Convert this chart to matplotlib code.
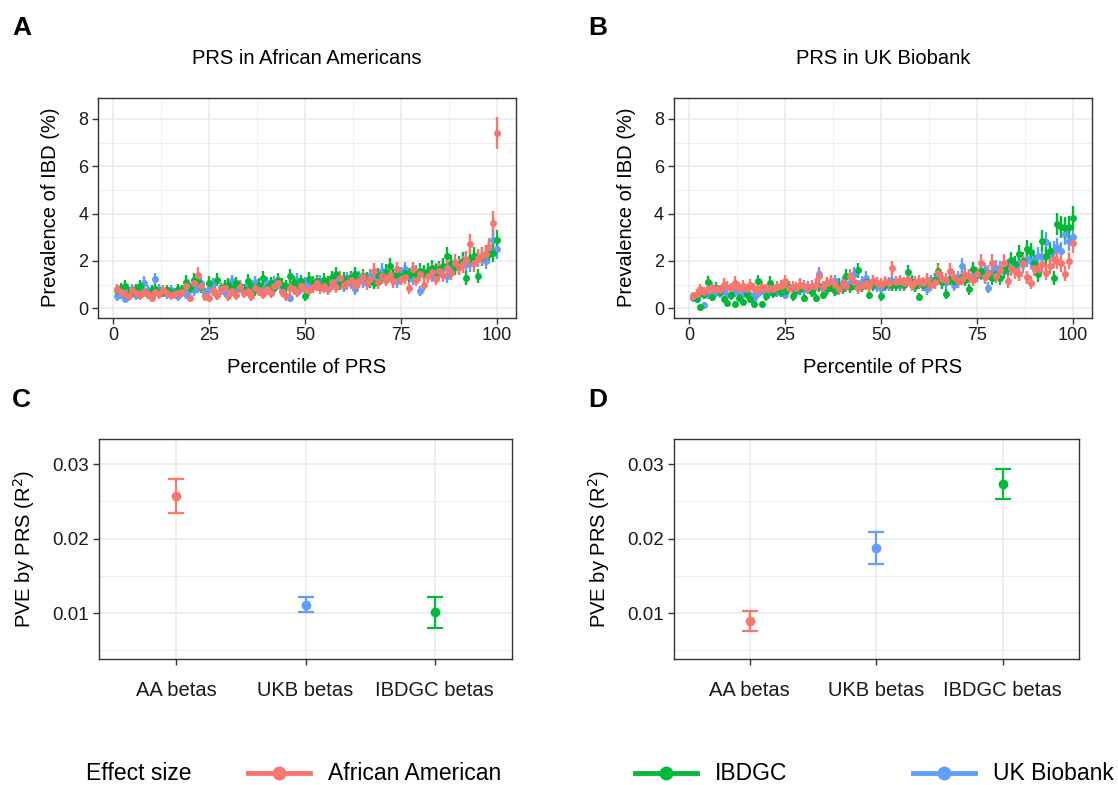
import numpy as np
import matplotlib.pyplot as plt
from matplotlib.lines import Line2D
from matplotlib.ticker import MultipleLocator

plt.rcParams['font.family'] = ['Liberation Sans', 'DejaVu Sans']

# ---- data ----
percentile = np.arange(1, 101)
n_per_bin = 1500  # people per percentile bin, used for the binomial SE

# prevalence of IBD (%) by PRS percentile, African American cohort
aa_cohort_aa = [0.80, 0.70, 0.60, 0.50, 0.75, 0.65, 0.55, 0.70, 0.60, 0.45,
                0.70, 0.60, 0.75, 0.65, 0.55, 0.60, 0.65, 0.70, 0.95, 0.45,
                1.05, 1.42, 0.95, 0.50, 0.45, 0.75, 0.55, 0.80, 0.85, 0.50,
                0.72, 0.55, 0.90, 0.65, 0.72, 0.50, 0.85, 0.75, 0.60, 0.80,
                0.65, 0.95, 1.08, 0.70, 0.51, 0.85, 0.80, 0.70, 0.95, 0.80,
                0.75, 0.90, 1.05, 0.86, 0.95, 0.80, 1.10, 0.90, 1.29, 1.00,
                1.05, 1.20, 0.95, 1.15, 1.30, 1.05, 1.25, 1.57, 1.10, 1.35,
                1.20, 1.40, 1.15, 1.64, 1.25, 1.30, 0.86, 1.64, 1.20, 1.45,
                1.00, 1.35, 1.55, 1.25, 1.57, 1.40, 1.70, 1.50, 1.93, 1.75,
                1.85, 2.05, 2.71, 1.90, 2.14, 2.20, 2.30, 2.57, 3.61, 7.40]
aa_cohort_ibdgc = [0.75, 0.85, 0.94, 0.70, 0.65, 0.80, 0.94, 0.70, 0.60, 0.75,
                   0.80, 0.65, 0.70, 0.75, 0.70, 0.60, 0.80, 0.75, 1.12, 0.85,
                   1.20, 1.12, 0.90, 0.51, 1.08, 0.75, 1.20, 0.85, 0.95, 1.00,
                   0.85, 1.05, 0.90, 0.80, 1.17, 0.95, 0.75, 1.00, 1.28, 0.90,
                   1.05, 0.85, 1.20, 1.00, 0.95, 1.35, 1.10, 0.90, 1.15, 0.51,
                   1.24, 1.05, 1.15, 1.00, 1.20, 1.10, 1.30, 1.43, 1.05, 1.25,
                   1.15, 1.30, 1.43, 1.20, 1.35, 1.25, 1.15, 1.08, 1.40, 1.30,
                   1.55, 1.78, 1.35, 1.45, 1.30, 1.50, 1.40, 1.60, 1.45, 1.57,
                   1.50, 1.57, 1.70, 1.55, 1.65, 1.80, 2.21, 1.90, 1.75, 1.85,
                   2.00, 1.29, 2.10, 2.20, 1.36, 2.15, 2.30, 2.30, 2.35, 2.89]
aa_cohort_ukb = [0.51, 0.60, 0.41, 0.65, 0.80, 0.55, 0.70, 1.08, 0.75, 0.65,
                 1.22, 0.80, 0.70, 0.60, 0.75, 0.65, 0.51, 0.70, 0.60, 0.80,
                 0.75, 0.90, 1.05, 0.65, 0.80, 1.00, 0.58, 0.85, 0.70, 0.95,
                 1.15, 0.80, 0.95, 0.70, 1.00, 0.85, 1.10, 0.86, 0.75, 1.05,
                 0.90, 1.10, 1.15, 0.80, 0.95, 0.44, 1.00, 1.20, 0.85, 1.05,
                 0.95, 1.10, 1.00, 1.15, 0.90, 0.80, 1.05, 1.20, 1.10, 0.95,
                 1.25, 1.10, 0.80, 1.30, 1.15, 1.05, 1.35, 1.20, 1.10, 1.57,
                 1.25, 1.40, 1.30, 1.15, 1.45, 1.64, 1.35, 1.25, 1.50, 0.72,
                 1.45, 1.55, 1.40, 1.60, 1.50, 1.70, 1.36, 1.65, 1.80, 1.75,
                 2.00, 1.85, 1.90, 2.05, 2.10, 2.21, 2.00, 2.45, 2.89, 2.50]

# prevalence of IBD (%) by PRS percentile, UK Biobank cohort
ukb_cohort_aa = [0.51, 0.60, 0.80, 0.70, 0.80, 0.85, 0.80, 0.75, 1.00, 0.90,
                 0.85, 1.08, 0.86, 0.95, 0.80, 0.97, 0.85, 0.75, 0.90, 0.80,
                 0.85, 0.80, 0.90, 0.95, 1.15, 0.85, 0.90, 0.86, 1.00, 0.95,
                 0.85, 0.94, 1.00, 1.36, 0.90, 1.05, 1.15, 1.00, 0.80, 1.05,
                 0.95, 1.36, 1.10, 0.86, 1.00, 1.05, 0.95, 1.15, 1.05, 1.00,
                 1.10, 1.05, 1.68, 1.10, 1.15, 1.05, 1.20, 1.00, 1.10, 1.15,
                 1.05, 1.20, 1.00, 1.10, 1.50, 1.25, 1.20, 1.57, 1.30, 1.15,
                 1.25, 1.40, 1.36, 1.20, 1.45, 1.93, 1.30, 1.50, 1.93, 1.35,
                 1.60, 1.93, 1.15, 1.70, 1.57, 1.45, 1.93, 1.30, 1.08, 1.70,
                 1.64, 1.85, 1.50, 1.78, 2.07, 2.00, 1.90, 1.46, 2.00, 2.74]
ukb_cohort_ibdgc = [0.50, 0.37, 0.05, 0.60, 1.11, 0.47, 0.87, 0.70, 0.37, 0.23,
                    0.55, 0.18, 0.45, 0.27, 0.60, 0.37, 0.16, 1.15, 0.18, 0.50,
                    1.08, 0.65, 0.87, 0.70, 0.72, 0.90, 0.51, 0.75, 0.80, 0.44,
                    0.85, 0.70, 0.44, 0.95, 0.58, 0.80, 0.95, 0.72, 1.00, 0.85,
                    1.36, 0.90, 1.05, 1.60, 0.95, 1.10, 0.58, 1.00, 1.05, 0.51,
                    1.00, 1.05, 1.00, 1.00, 1.05, 1.00, 1.53, 1.10, 0.95, 0.47,
                    1.00, 1.15, 1.05, 1.20, 1.57, 1.10, 0.61, 1.25, 1.15, 1.15,
                    1.30, 1.20, 0.80, 1.64, 1.40, 1.57, 1.35, 1.50, 1.29, 1.45,
                    1.29, 1.60, 1.70, 2.03, 1.85, 2.29, 2.00, 2.50, 2.36, 1.90,
                    1.43, 2.86, 2.20, 2.40, 1.29, 3.56, 3.42, 3.40, 3.42, 3.81]
ukb_cohort_ukb = [0.45, 0.51, 0.60, 0.13, 0.58, 0.87, 0.70, 0.65, 0.80, 0.55,
                  0.58, 0.70, 0.87, 0.60, 0.75, 0.55, 0.44, 0.65, 0.80, 0.70,
                  0.75, 0.85, 0.70, 0.80, 0.58, 0.90, 0.85, 0.72, 0.95, 0.80,
                  0.90, 0.72, 1.00, 1.43, 0.85, 1.05, 0.95, 1.15, 0.90, 1.10,
                  1.00, 1.05, 1.43, 0.95, 1.10, 1.29, 1.00, 1.05, 0.95, 0.87,
                  1.05, 1.00, 1.15, 1.10, 1.00, 1.05, 1.20, 1.15, 1.05, 1.10,
                  1.00, 0.80, 1.15, 1.20, 1.29, 1.15, 1.10, 1.25, 1.00, 1.30,
                  1.78, 1.40, 1.35, 1.36, 1.45, 1.50, 1.60, 0.87, 1.55, 1.70,
                  1.65, 1.57, 1.75, 1.80, 1.70, 1.93, 1.85, 2.10, 2.00, 2.05,
                  2.20, 2.15, 2.78, 2.30, 2.45, 2.57, 2.40, 3.14, 2.85, 3.02]

# PVE (R^2) with lower / upper bounds
beta_labels = ['AA betas', 'UKB betas', 'IBDGC betas']
pve_aa = [0.0258, 0.0111, 0.0101]
pve_aa_lo = [0.0235, 0.0101, 0.0080]
pve_aa_hi = [0.0280, 0.0122, 0.0122]
pve_ukb = [0.0089, 0.0188, 0.0273]
pve_ukb_lo = [0.0076, 0.0166, 0.0253]
pve_ukb_hi = [0.0103, 0.0209, 0.0293]

col_aa = '#F8766D'
col_ibdgc = '#00BA38'
col_ukb = '#619CFF'
beta_colors = [col_aa, col_ukb, col_ibdgc]

fig = plt.figure(figsize=(11.18, 7.85), dpi=100)


def style_axes(ax):
    for s in ax.spines.values():
        s.set_color('#333333')
        s.set_linewidth(1.0)
    ax.grid(which='major', color='#EBEBEB', lw=1.2, zorder=0)
    ax.grid(which='minor', color='#EBEBEB', lw=0.6, zorder=0)
    ax.set_axisbelow(True)
    ax.tick_params(which='major', length=4, width=1, color='#333333',
                   labelsize=13, labelcolor='#1a1a1a', pad=3)
    ax.tick_params(which='minor', length=0)


def prs_panel(rect, title, series):
    ax = fig.add_axes(rect)
    style_axes(ax)
    for vals, col in series:
        p = np.array(vals) / 100
        se = np.sqrt(p * (1 - p) / n_per_bin) * 100
        ax.errorbar(percentile, vals, yerr=se, fmt='o', color=col, ms=4.0,
                    elinewidth=1.7, capsize=0, zorder=3)
    ax.set_xlim(-3.95, 104.95)
    ax.set_ylim(-0.4, 8.9)
    ax.xaxis.set_major_locator(MultipleLocator(25))
    ax.xaxis.set_minor_locator(MultipleLocator(12.5))
    ax.yaxis.set_major_locator(MultipleLocator(2))
    ax.yaxis.set_minor_locator(MultipleLocator(1))
    ax.set_xlabel('Percentile of PRS', fontsize=14.5, labelpad=10)
    ax.set_ylabel('Prevalence of IBD (%)', fontsize=14.5, labelpad=13)
    ax.set_title(title, fontsize=14.5, pad=24)
    return ax


def pve_panel(rect, vals, lo, hi):
    ax = fig.add_axes(rect)
    style_axes(ax)
    xs = np.arange(1, len(beta_labels) + 1)
    for x, v, l, h, col in zip(xs, vals, lo, hi, beta_colors):
        ax.errorbar([x], [v], yerr=[[v - l], [h - v]], fmt='o', color=col,
                    ms=6, elinewidth=1.6, capsize=6, capthick=1.6, zorder=3)
    ax.set_xlim(0.4, 3.6)
    ax.set_ylim(0.00383, 0.0334)
    ax.set_xticks(xs)
    ax.set_xticklabels(beta_labels, fontsize=14.5)
    ax.yaxis.set_major_locator(MultipleLocator(0.01))
    ax.yaxis.set_minor_locator(MultipleLocator(0.005))
    ax.tick_params(axis='y', labelsize=13.5)
    ax.yaxis.set_major_formatter(plt.FormatStrFormatter('%.2f'))
    ax.set_ylabel('PVE by PRS (R$^2$)', fontsize=14.5, labelpad=11)
    ax.tick_params(axis='x', pad=12)
    return ax


# draw order: UK Biobank first, African American on top
prs_panel([0.0877, 0.5953, 0.3739, 0.2803], 'PRS in African Americans',
          [(aa_cohort_ukb, col_ukb), (aa_cohort_ibdgc, col_ibdgc), (aa_cohort_aa, col_aa)])
prs_panel([0.6027, 0.5953, 0.3739, 0.2803], 'PRS in UK Biobank',
          [(ukb_cohort_ukb, col_ukb), (ukb_cohort_ibdgc, col_ibdgc), (ukb_cohort_aa, col_aa)])
pve_panel([0.0886, 0.1605, 0.3694, 0.2803], pve_aa, pve_aa_lo, pve_aa_hi)
pve_panel([0.6026, 0.1605, 0.3623, 0.2803], pve_ukb, pve_ukb_lo, pve_ukb_hi)

# panel letters
for lab, x, y in [('A', 12, 28), ('B', 588, 28), ('C', 12, 400), ('D', 588, 400)]:
    fig.text(x / 1118, 1 - y / 785, lab, fontsize=19, fontweight='bold',
             va='center', ha='left')

# legend at bottom
ly = 1 - 773 / 785
fig.text(86 / 1118, ly, 'Effect size', fontsize=16.5, va='center', ha='left')
for x0, x1, col, lab in [(248, 310, col_aa, 'African American'),
                         (635, 697, col_ibdgc, 'IBDGC'),
                         (913, 975, col_ukb, 'UK Biobank')]:
    fig.add_artist(Line2D([x0 / 1118, x1 / 1118], [ly, ly], color=col, lw=3.5,
                          transform=fig.transFigure))
    fig.add_artist(Line2D([(x0 + x1) / 2 / 1118], [ly], color=col, marker='o',
                          ms=9, transform=fig.transFigure))
    fig.text((x1 + 18) / 1118, ly, lab, fontsize=16.5, va='center', ha='left')

fig.savefig('out.png', dpi=100)
